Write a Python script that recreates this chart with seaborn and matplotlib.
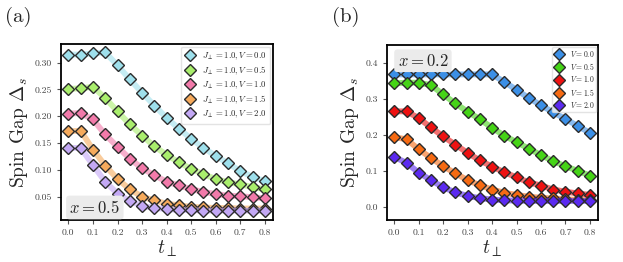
import numpy as np
import pandas as pd
import seaborn as sns
import matplotlib.pyplot as plt

# data
t_perp = [0.0, 0.05, 0.1, 0.15, 0.2, 0.25, 0.3, 0.35, 0.4, 0.45, 0.5, 0.55, 0.6, 0.65, 0.7, 0.75, 0.8]

V_values = ["0.0", "0.5", "1.0", "1.5", "2.0"]

gap_a_V00 = [0.315, 0.315, 0.317, 0.319, 0.295, 0.269, 0.244, 0.220, 0.197, 0.177, 0.158, 0.141, 0.126, 0.112, 0.098, 0.087, 0.079]
gap_a_V05 = [0.251, 0.252, 0.255, 0.234, 0.209, 0.185, 0.164, 0.144, 0.128, 0.114, 0.102, 0.092, 0.083, 0.077, 0.073, 0.068, 0.064]
gap_a_V10 = [0.205, 0.206, 0.194, 0.166, 0.143, 0.121, 0.103, 0.090, 0.078, 0.071, 0.064, 0.059, 0.055, 0.052, 0.051, 0.049, 0.047]
gap_a_V15 = [0.172, 0.173, 0.138, 0.108, 0.083, 0.064, 0.050, 0.043, 0.037, 0.034, 0.031, 0.030, 0.029, 0.029, 0.028, 0.028, 0.028]
gap_a_V20 = [0.141, 0.141, 0.109, 0.078, 0.056, 0.042, 0.033, 0.029, 0.027, 0.025, 0.025, 0.024, 0.024, 0.024, 0.024, 0.024, 0.024]

gap_b_V00 = [0.369, 0.369, 0.369, 0.369, 0.369, 0.369, 0.369, 0.369, 0.369, 0.348, 0.326, 0.303, 0.283, 0.263, 0.245, 0.225, 0.206]
gap_b_V05 = [0.344, 0.346, 0.346, 0.339, 0.313, 0.288, 0.265, 0.244, 0.220, 0.198, 0.180, 0.162, 0.144, 0.127, 0.113, 0.100, 0.087]
gap_b_V10 = [0.266, 0.266, 0.247, 0.221, 0.196, 0.173, 0.150, 0.129, 0.112, 0.096, 0.082, 0.068, 0.059, 0.048, 0.042, 0.037, 0.033]
gap_b_V15 = [0.194, 0.188, 0.160, 0.136, 0.113, 0.093, 0.074, 0.060, 0.048, 0.039, 0.033, 0.028, 0.025, 0.023, 0.021, 0.019, 0.018]
gap_b_V20 = [0.139, 0.122, 0.095, 0.074, 0.054, 0.040, 0.030, 0.024, 0.020, 0.018, 0.017, 0.016, 0.016, 0.016, 0.016, 0.016, 0.016]

colors_a = ["#9ee0ec", "#a9ee6c", "#f27aaa", "#f6aa5c", "#c3a8f5"]
colors_b = ["#3b8fe6", "#45d416", "#ee1111", "#f66a12", "#5b2af0"]

sns.set_style("ticks")
plt.rcParams["font.family"] = ["cmr10", "DejaVu Serif"]
plt.rcParams["mathtext.fontset"] = "cm"
plt.rcParams["axes.unicode_minus"] = False
plt.rcParams["axes.formatter.use_mathtext"] = True

fig = plt.figure(figsize=(6.23, 2.62), dpi=100)
ax_a = fig.add_axes([61 / 623, 1 - 220 / 262, 212 / 623, 176 / 262])
ax_b = fig.add_axes([387 / 623, 1 - 220 / 262, 211 / 623, 175 / 262])


def draw_panel(ax, series, colors, labels):
    for y, c, lab in zip(series, colors, labels):
        df = pd.DataFrame({"t": t_perp, "gap": y})
        sns.lineplot(data=df, x="t", y="gap", ax=ax, color=c, lw=4.2, alpha=0.6, legend=False)
        ax.plot(df["t"], df["gap"], ls="none", marker="D", ms=6, mfc=c, mec="#2b2b2b", mew=1.0, label=lab)
    ax.set_xticks([0.0, 0.1, 0.2, 0.3, 0.4, 0.5, 0.6, 0.7, 0.8])
    ax.set_xlim(-0.03, 0.833)
    ax.tick_params(labelsize=7, colors="#555555", length=3, width=0.8)
    ax.tick_params(labelcolor="#444444")
    for s in ax.spines.values():
        s.set_linewidth(1.3)
        s.set_color("black")
    ax.set_xlabel(r"$t_{\perp}$", fontsize=14, labelpad=1)
    ax.set_ylabel(r"Spin Gap $\Delta_s$", fontsize=14, labelpad=3)


series_a = [gap_a_V00, gap_a_V05, gap_a_V10, gap_a_V15, gap_a_V20]
labels_a = [r"$J_{\perp}=1.0, V=%s$" % v for v in V_values]
draw_panel(ax_a, series_a, colors_a, labels_a)
ax_a.set_ylim(0.0066, 0.3347)
ax_a.set_yticks([0.05, 0.10, 0.15, 0.20, 0.25, 0.30])
ax_a.set_yticklabels(["0.05", "0.10", "0.15", "0.20", "0.25", "0.30"])
ax_a.set_xticklabels(["0.0", "0.1", "0.2", "0.3", "0.4", "0.5", "0.6", "0.7", "0.8"])
ax_a.legend(loc="upper right", fontsize=6.3, frameon=True, edgecolor="#dddddd",
            handletextpad=0.8, borderpad=0.4, labelspacing=0.3, handlelength=1.2,
            borderaxespad=0.3)
ax_a.text(0.04, 0.04, r"$x=0.5$", transform=ax_a.transAxes, fontsize=12,
          bbox=dict(boxstyle="round,pad=0.2", fc="#ebebeb", ec="none"))

series_b = [gap_b_V00, gap_b_V05, gap_b_V10, gap_b_V15, gap_b_V20]
labels_b = [r"$V=%s$" % v for v in V_values]
draw_panel(ax_b, series_b, colors_b, labels_b)
ax_b.set_ylim(-0.037, 0.451)
ax_b.set_yticks([0.0, 0.1, 0.2, 0.3, 0.4])
ax_b.set_yticklabels(["0.0", "0.1", "0.2", "0.3", "0.4"])
ax_b.set_xticklabels(["0.0", "0.1", "0.2", "0.3", "0.4", "0.5", "0.6", "0.7", "0.8"])
ax_b.legend(loc="upper right", fontsize=5.5, frameon=True, edgecolor="#dddddd",
            handletextpad=0.8, borderpad=0.3, labelspacing=0.3, handlelength=1.2,
            borderaxespad=0.2)
ax_b.text(0.05, 0.91, r"$x=0.2$", transform=ax_b.transAxes, fontsize=12,
          va="center", bbox=dict(boxstyle="round,pad=0.2", fc="#ebebeb", ec="none"))

fig.text(5 / 623, 1 - 17 / 262, "(a)", fontsize=15, va="center")
fig.text(332 / 623, 1 - 17 / 262, "(b)", fontsize=15, va="center")

fig.savefig("out.png", dpi=100)
